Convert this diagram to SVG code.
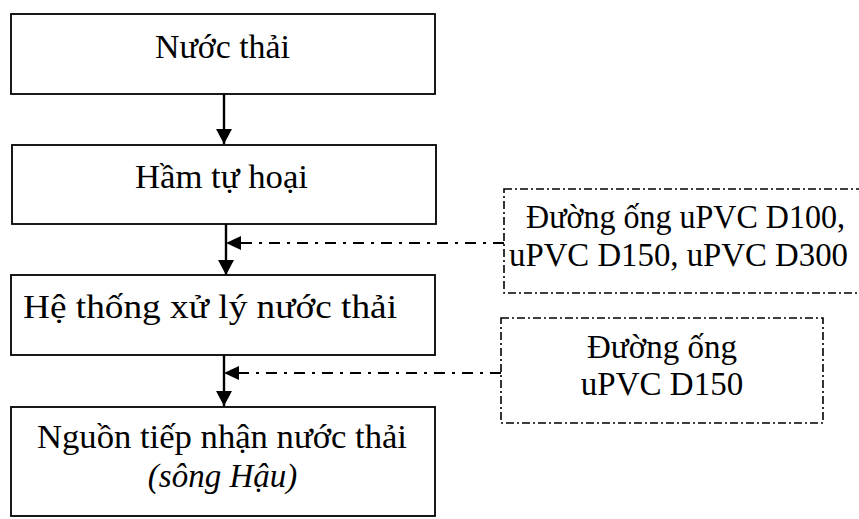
<svg xmlns="http://www.w3.org/2000/svg" width="859" height="519" viewBox="0 0 859 519">
<defs>
<style>
.box{fill:#fff;stroke:#000;stroke-width:1.8}
.dbox{fill:#fff;stroke:#000;stroke-width:1.6;stroke-dasharray:8 3 2 3}
.t{font-family:"Liberation Serif","Times New Roman",serif;font-size:33px;fill:#000;text-anchor:middle}
.flow{stroke:#000;stroke-width:2.4;fill:none}
.dash{stroke:#000;stroke-width:2;fill:none;stroke-dasharray:11 7 3 7}
</style>
<marker id="ad" markerWidth="16" markerHeight="16" refX="15" refY="8" orient="auto" markerUnits="userSpaceOnUse">
<path d="M0,0 L15,8 L0,16 Z" fill="#000"/>
</marker>
</defs>
<g id="connectors">
<line class="flow" x1="224" y1="94" x2="224" y2="144" marker-end="url(#ad)"/>
<line class="flow" x1="226" y1="224" x2="226" y2="275" marker-end="url(#ad)"/>
<line class="flow" x1="224" y1="355" x2="224" y2="406" marker-end="url(#ad)"/>
<line class="dash" x1="504" y1="243" x2="241" y2="243"/>
<path d="M226,243 L241,236 L241,250 Z" fill="#000"/>
<line class="dash" x1="501" y1="373" x2="239" y2="373"/>
<path d="M224,373 L239,366 L239,380 Z" fill="#000"/>
</g>
<g id="n1">
<rect class="box" x="11" y="14" width="424" height="80"/>
<text class="t" x="222.5" y="58" textLength="135" lengthAdjust="spacingAndGlyphs">Nước thải</text>
</g>
<g id="n2">
<rect class="box" x="12" y="145" width="424" height="79"/>
<text class="t" x="221.5" y="188" textLength="173" lengthAdjust="spacingAndGlyphs">Hầm tự hoại</text>
</g>
<g id="n3">
<rect class="box" x="11" y="275" width="424" height="80"/>
<text class="t" x="210" y="318" textLength="374" lengthAdjust="spacingAndGlyphs">Hệ thống xử lý nước thải</text>
</g>
<g id="n4">
<rect class="box" x="11" y="407" width="424" height="109"/>
<text class="t" x="222" y="448" textLength="370" lengthAdjust="spacingAndGlyphs">Nguồn tiếp nhận nước thải</text>
<text class="t" x="222.5" y="487" font-style="italic">(sông Hậu)</text>
</g>
<g id="n5">
<rect class="dbox" x="504" y="189" width="370" height="104"/>
<text class="t" x="685.5" y="228" textLength="319" lengthAdjust="spacingAndGlyphs">Đường ống uPVC D100,</text>
<text class="t" x="678.5" y="266" textLength="339" lengthAdjust="spacingAndGlyphs">uPVC D150, uPVC D300</text>
</g>
<g id="n6">
<rect class="dbox" x="501" y="318" width="322" height="105"/>
<text class="t" x="662" y="358">Đường ống</text>
<text class="t" x="662" y="395">uPVC D150</text>
</g>
</svg>
